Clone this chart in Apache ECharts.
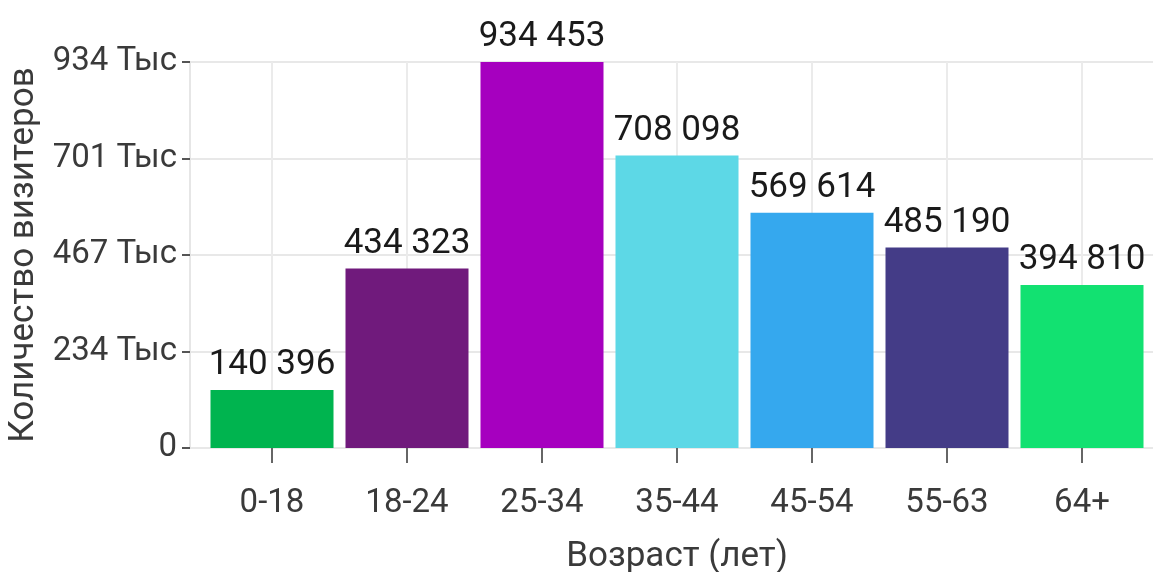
<!DOCTYPE html>
<html>
<head>
<meta charset="utf-8">
<script src="https://cdn.jsdelivr.net/npm/echarts@6/dist/echarts.min.js"></script>
<style>
html,body{margin:0;padding:0;background:#fff;}
#chart{width:1153px;height:572px;}
</style>
</head>
<body>
<div id="chart"></div>
<script>
var categories = ['0-18', '18-24', '25-34', '35-44', '45-54', '55-63', '64+'];
var values = [140396, 434323, 934453, 708098, 569614, 485190, 394810];
var barColors = ['#00b44f', '#701a7c', '#a600bf', '#5dd8e6', '#35a8ee', '#443c87', '#12e171'];
var yTickLabels = ['0', '234 Тыс', '467 Тыс', '701 Тыс', '934 Тыс'];
var yMax = 934453;

function fmtThousands(v) {
  return String(v).replace(/\B(?=(\d{3})+(?!\d))/g, ' ');
}

var FONT = 'Roboto';
var chart = echarts.init(document.getElementById('chart'));
var option = {
  animation: false,
  textStyle: { fontFamily: FONT },
  grid: [
    { left: 204.5, right: 3.5, top: 62, bottom: 124, containLabel: false, outerBoundsMode: 'none' },
    { left: 190, right: 0, top: 62, bottom: 124, containLabel: false, outerBoundsMode: 'none' }
  ],
  xAxis: [
    {
      type: 'category', gridIndex: 0, data: categories,
      axisLine: { show: false },
      axisTick: { show: true, alignWithLabel: true, length: 15, lineStyle: { color: '#666', width: 2 } },
      splitLine: { show: true, alignWithLabel: true, lineStyle: { color: '#ebebeb', width: 2 } },
      axisLabel: { color: '#3a3a3a', fontSize: 33, fontFamily: FONT, margin: 39 },
      name: 'Возраст (лет)', nameLocation: 'middle', nameGap: 92,
      nameTextStyle: { color: '#3a3a3a', fontSize: 35, fontFamily: FONT },
      z: 1
    },
    { type: 'value', gridIndex: 1, min: 0, max: 1, show: false }
  ],
  yAxis: [
    { type: 'value', gridIndex: 0, min: 0, max: yMax, show: false },
    {
      type: 'value', gridIndex: 1, min: 0, max: yMax, interval: yMax / 4,
      axisLine: { show: true, lineStyle: { color: '#e6e6e6', width: 2 } },
      axisTick: { show: true, length: 8, lineStyle: { color: '#555', width: 2 } },
      splitLine: { show: true, lineStyle: { color: '#e8e8e8', width: 2 } },
      axisLabel: {
        color: '#3a3a3a', fontSize: 33, fontFamily: FONT, margin: 13,
        formatter: function (v, i) { return yTickLabels[i]; }
      },
      name: 'Количество визитеров', nameLocation: 'middle', nameGap: 143,
      nameTextStyle: { color: '#3a3a3a', fontSize: 35, fontFamily: FONT }
    }
  ],
  series: [
    {
      type: 'bar', xAxisIndex: 0, yAxisIndex: 0,
      barWidth: 123,
      data: values.map(function (v, i) { return { value: v, itemStyle: { color: barColors[i] } }; }),
      label: {
        show: true, position: 'top', distance: 7,
        color: '#1a1a1a', fontSize: 35, fontFamily: FONT,
        formatter: function (p) { return fmtThousands(p.value); }
      },
      z: 3
    }
  ]
};
chart.setOption(option);
</script>
</body>
</html>
